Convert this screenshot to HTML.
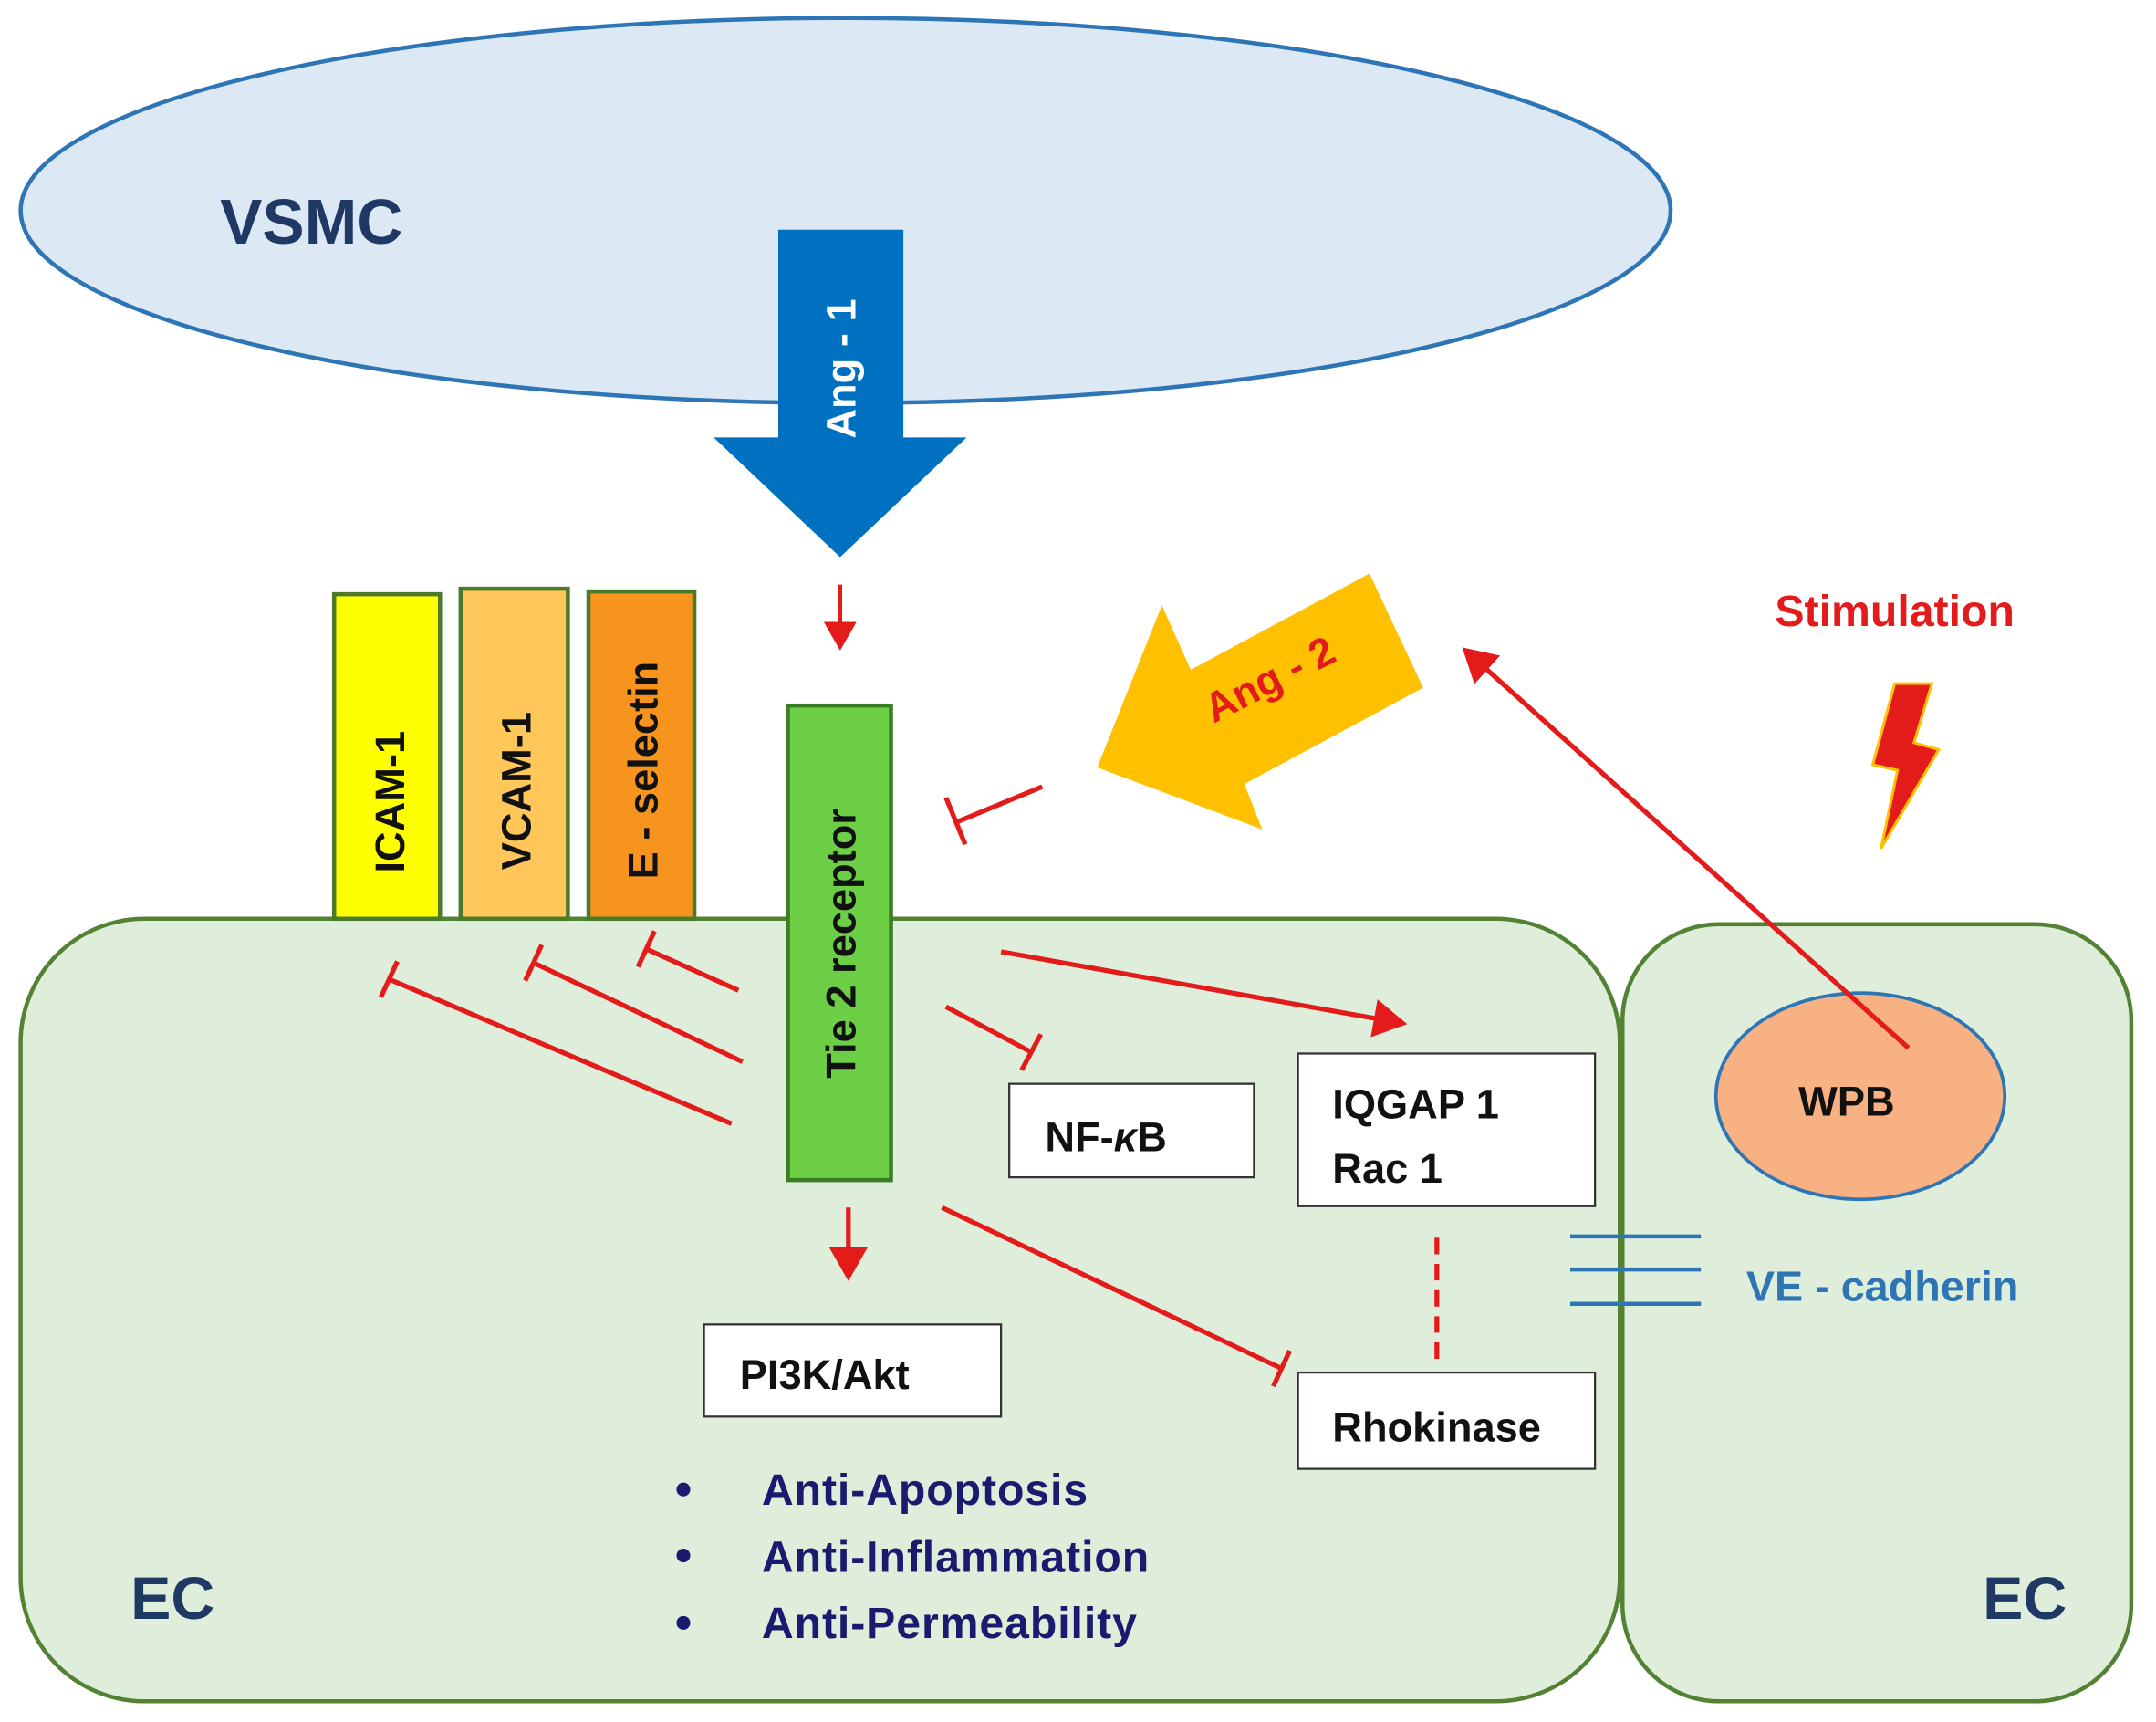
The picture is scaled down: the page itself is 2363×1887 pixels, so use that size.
<!DOCTYPE html>
<html><head><meta charset="utf-8"><style>html,body{margin:0;padding:0;background:#fff}svg{display:block}</style></head>
<body>
<svg width="2363" height="1887" viewBox="0 0 1568 1252" xmlns="http://www.w3.org/2000/svg" font-family="Liberation Sans, sans-serif" font-weight="bold">
<defs>
<marker id="ar" markerWidth="8" markerHeight="8" refX="6" refY="4" orient="auto" markerUnits="strokeWidth"><path d="M0,0 L7,4 L0,8 Z" fill="#e31b1b"/></marker>
</defs>
<rect width="1568" height="1252" fill="#fff"/>
<ellipse cx="615" cy="153" rx="600" ry="140" fill="#dce9f5" stroke="#2e75b6" stroke-width="3"/>
<text x="160" y="177" font-size="46" fill="#1f3864">VSMC</text>
<rect x="15" y="668" width="1163" height="569" rx="90" fill="#dfeedb" stroke="#548235" stroke-width="3"/>
<rect x="1180" y="672" width="370" height="565" rx="70" fill="#dfeedb" stroke="#548235" stroke-width="3"/>
<polygon points="566,167 657,167 657,318 703,318 611,405 519,318 566,318" fill="#0070c0"/>
<text transform="translate(622,268) rotate(-90)" text-anchor="middle" font-size="30" fill="#fff">Ang - 1</text>
<line x1="611" y1="425" x2="611" y2="470" stroke="#e31b1b" stroke-width="3" marker-end="url(#ar)"/>
<rect x="243" y="432" width="77" height="236" fill="#ffff00" stroke="#4a7a2a" stroke-width="3"/>
<text transform="translate(294,583) rotate(-90)" text-anchor="middle" font-size="30" fill="#111">ICAM-1</text>
<rect x="335" y="428" width="78" height="240" fill="#ffc65a" stroke="#4a7a2a" stroke-width="3"/>
<text transform="translate(386,575) rotate(-90)" text-anchor="middle" font-size="30" fill="#111">VCAM-1</text>
<rect x="428" y="430" width="77" height="238" fill="#f7941d" stroke="#4a7a2a" stroke-width="3"/>
<text transform="translate(478,560) rotate(-90)" text-anchor="middle" font-size="30" fill="#111">E - selectin</text>
<rect x="573" y="513" width="75" height="345" fill="#6ccf45" stroke="#3a7d22" stroke-width="3"/>
<text transform="translate(622,686) rotate(-90)" text-anchor="middle" font-size="30" fill="#111">Tie 2 receptor</text>
<polygon points="798,558 845,440 866,487 996,417 1035,500 905,570 918,603" fill="#ffc000"/>
<text transform="translate(928,503) rotate(-27)" text-anchor="middle" font-size="30" fill="#e31b1b">Ang - 2</text>
<g stroke="#e31b1b" stroke-width="3.5" fill="none">
<line x1="758" y1="572" x2="695" y2="598"/><line x1="688" y1="580" x2="702" y2="614"/>
<line x1="537" y1="720" x2="470" y2="690"/><line x1="464" y1="703" x2="476" y2="677"/>
<line x1="540" y1="772" x2="388" y2="700"/><line x1="382" y1="713" x2="394" y2="687"/>
<line x1="532" y1="817" x2="283" y2="712"/><line x1="277" y1="725" x2="289" y2="699"/>
<line x1="688" y1="732" x2="750" y2="765"/><line x1="743" y1="778" x2="757" y2="752"/>
<line x1="685" y1="878" x2="932" y2="995"/><line x1="926" y1="1008" x2="938" y2="982"/>
<line x1="1045" y1="900" x2="1045" y2="992" stroke-dasharray="12,7"/>
</g>
<line x1="728" y1="692" x2="1020" y2="744" stroke="#e31b1b" stroke-width="3.5" marker-end="url(#ar)"/>
<line x1="617" y1="878" x2="617" y2="928" stroke="#e31b1b" stroke-width="3.5" marker-end="url(#ar)"/>
<text x="1378" y="455" text-anchor="middle" font-size="32" fill="#e31b1b">Stimulation</text>
<polygon points="1378,497 1405,497 1392,540 1410,545 1368,617 1380,560 1362,556" fill="#e31b1b" stroke="#ffc000" stroke-width="2"/>
<ellipse cx="1353" cy="797" rx="105" ry="75" fill="#f8b183" stroke="#2e75b6" stroke-width="2.5"/>
<text x="1343" y="811" text-anchor="middle" font-size="30" fill="#111">WPB</text>
<line x1="1388" y1="762" x2="1066" y2="473" stroke="#e31b1b" stroke-width="3.5" marker-end="url(#ar)"/>
<g fill="#fff" stroke="#333" stroke-width="1.5">
<rect x="734" y="788" width="178" height="68"/>
<rect x="944" y="766" width="216" height="111"/>
<rect x="944" y="998" width="216" height="70"/>
<rect x="512" y="963" width="216" height="67"/>
</g>
<g font-size="30" fill="#111">
<text x="760" y="837">NF-<tspan font-style="italic">κ</tspan>B</text>
<text x="969" y="813">IQGAP 1</text>
<text x="969" y="860">Rac 1</text>
<text x="969" y="1048">Rhokinase</text>
<text x="538" y="1010">PI3K/Akt</text>
</g>
<g stroke="#2e75b6" stroke-width="3"><line x1="1142" y1="899" x2="1237" y2="899"/><line x1="1142" y1="923" x2="1237" y2="923"/><line x1="1142" y1="948" x2="1237" y2="948"/></g>
<text x="1270" y="946" font-size="31" fill="#2e75b6">VE - cadherin</text>
<g fill="#1a1a6e"><circle cx="497" cy="1083" r="5"/><circle cx="497" cy="1131" r="5"/><circle cx="497" cy="1180" r="5"/></g>
<g font-size="32" fill="#1a1a6e" letter-spacing="0.6">
<text x="554" y="1094">Anti-Apoptosis</text>
<text x="554" y="1143">Anti-Inflammation</text>
<text x="554" y="1191">Anti-Permeability</text>
</g>
<text x="95" y="1177" font-size="44" fill="#1f3864">EC</text>
<text x="1442" y="1177" font-size="44" fill="#1f3864">EC</text>
</svg>
</body></html>
